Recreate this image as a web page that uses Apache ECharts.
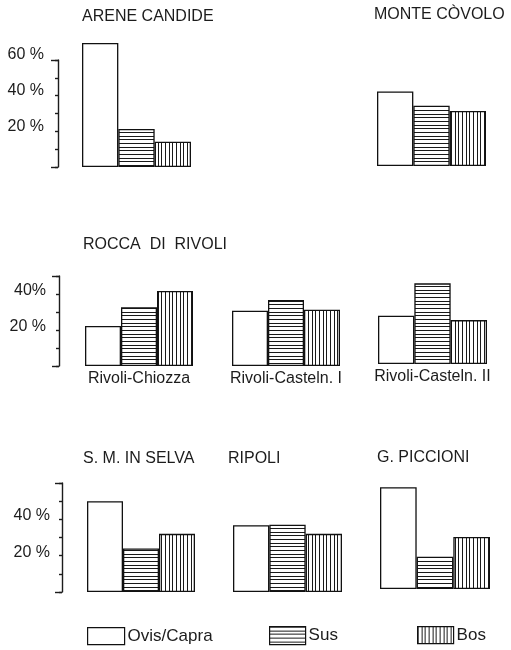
<!DOCTYPE html>
<html>
<head>
<meta charset="utf-8">
<script src="https://cdn.jsdelivr.net/npm/echarts@6/dist/echarts.min.js"></script>
<style>
html,body{margin:0;padding:0;background:#fff;}
#chart{width:511px;height:650px;}
</style>
</head>
<body>
<div id="chart"></div>
<script>
// ---- data ----
const species = ['Ovis/Capra', 'Sus', 'Bos'];
const sites = ['Arene Candide', 'Monte Còvolo', 'Rivoli-Chiozza', 'Rivoli-Casteln. I', 'Rivoli-Casteln. II', 'S. M. in Selva', 'Ripoli', 'G. Piccioni'];
const ovis = [69.6, 41.8, 22.2, 30.7, 26.8, 50.0, 36.8, 56.0];
const sus  = [21.3, 33.8, 32.6, 36.7, 44.8, 24.0, 37.0, 17.8];
const bos  = [14.2, 30.8, 41.7, 31.3, 24.4, 32.0, 32.0, 28.6];
const groupTitles = ['ARENE CANDIDE', 'MONTE CÒVOLO', 'ROCCA  DI  RIVOLI', 'S. M. IN SELVA', 'RIPOLI', 'G. PICCIONI'];
const subLabels = ['', '', 'Rivoli-Chiozza', 'Rivoli-Casteln. I', 'Rivoli-Casteln. II', '', '', ''];
const tickLabelsRow1 = {20: '20 %', 40: '40 %', 60: '60 %'};
const tickLabelsRow2 = {20: '20 %', 40: '40%'};
const tickLabelsRow3 = {20: '20 %', 40: '40 %'};

// ---- layout (pixels) ----
const grids = [
  {left: 82,  top: 60,  width: 109, height: 107, max: 60},
  {left: 377, top: 59,  width: 109, height: 107, max: 60},
  {left: 85,  top: 276, width: 108, height: 90,  max: 50},
  {left: 232, top: 276, width: 108, height: 90,  max: 50},
  {left: 378, top: 274, width: 109, height: 90,  max: 50},
  {left: 87,  top: 483, width: 108, height: 109, max: 60},
  {left: 233, top: 483, width: 109, height: 109, max: 60},
  {left: 380, top: 480, width: 110, height: 109, max: 60}
];
const axisSpec = {0: {offset: 24, margin: 14, lh: 10, labels: tickLabelsRow1},
                  2: {offset: 26, margin: 13, lh: 7, labels: tickLabelsRow2},
                  5: {offset: 25, margin: 12, lh: 7, labels: tickLabelsRow3}};
const titlePos = [[82, 9], [374, 7], [83, 237], [83, 451], [228, 451], [377, 450]];

const FONT = "'Liberation Sans', Arial, sans-serif";
const INK = '#1c1c1c';

function hatch(horizontal) {
  const c = document.createElement('canvas');
  const len = 11;
  c.width = horizontal ? 4 : len;
  c.height = horizontal ? len : 4;
  const g = c.getContext('2d');
  g.fillStyle = '#fff';
  g.fillRect(0, 0, c.width, c.height);
  g.fillStyle = '#1a1a1a';
  [0, 4, 7].forEach(p => {
    if (horizontal) g.fillRect(0, p, c.width, 1);
    else g.fillRect(p, 0, 1, c.height);
  });
  return {image: c, repeat: 'repeat'};
}
const fills = ['#ffffff', hatch(true), hatch(false)];
const values = [ovis, sus, bos];

const grid = [], xAxis = [], yAxis = [], series = [];
grids.forEach((g, i) => {
  grid.push({left: g.left, top: g.top, width: g.width, height: g.height, containLabel: false});
  xAxis.push({
    type: 'category', gridIndex: i, data: species, boundaryGap: true,
    axisLine: {show: false}, axisTick: {show: false}, axisLabel: {show: false},
    splitLine: {show: false},
    name: subLabels[i], nameLocation: 'middle', nameGap: 5,
    nameTextStyle: {fontFamily: FONT, fontSize: 16, color: INK, verticalAlign: 'top'}
  });
  const a = axisSpec[i];
  yAxis.push({
    type: 'value', gridIndex: i, min: 0, max: g.max, interval: 10,
    show: !!a, position: 'left', offset: a ? a.offset : 0,
    axisLine: {show: true, lineStyle: {color: INK, width: 1.4}},
    axisTick: {show: true, length: 3, inside: false, lineStyle: {color: INK, width: 1.4}},
    axisLabel: {
      show: !!a, margin: a ? a.margin : 8, fontFamily: FONT, fontSize: 16, color: INK,
      verticalAlign: 'bottom', lineHeight: a ? a.lh : 10,
      formatter: v => (a && a.labels[v]) || ''
    },
    splitLine: {show: false}
  });
  species.forEach((sp, k) => {
    const d = species.map((_, j) => j === k ? values[k][i] : '-');
    series.push({
      type: 'bar', name: sp, xAxisIndex: i, yAxisIndex: i, data: d,
      barWidth: '100%', barGap: '-100%', clip: false, silent: true,
      itemStyle: {color: fills[k], borderColor: '#111', borderWidth: 1.3},
      emphasis: {disabled: true}
    });
  });
});
// bracket end caps
Object.keys(axisSpec).forEach(key => {
  const i = +key, g = grids[i], a = axisSpec[i];
  yAxis.push({
    type: 'value', gridIndex: i, min: 0, max: g.max, interval: g.max,
    position: 'left', offset: a.offset,
    axisLine: {show: false},
    axisTick: {show: true, length: 7, inside: false, lineStyle: {color: INK, width: 1.4}},
    axisLabel: {show: false}, splitLine: {show: false}
  });
});

const title = groupTitles.map((t, i) => ({
  text: t, left: titlePos[i][0], top: titlePos[i][1], padding: 0,
  textStyle: {fontFamily: FONT, fontSize: 16, fontWeight: 'normal', color: INK}
}));

const legendPos = [[87, 627, 37, 17], [269, 626, 36, 18], [417, 626, 36, 17]];
const legend = species.map((sp, k) => ({
  data: [sp], left: legendPos[k][0], top: legendPos[k][1], padding: 0,
  itemWidth: legendPos[k][2], itemHeight: legendPos[k][3], icon: 'rect',
  selectedMode: false,
  itemStyle: {borderColor: '#111', borderWidth: 1.2},
  textStyle: {fontFamily: FONT, fontSize: 17, color: INK, padding: [0, 0, 0, -2]}
}));

const chart = echarts.init(document.getElementById('chart'), null, {renderer: 'canvas'});
chart.setOption({
  animation: false,
  backgroundColor: '#ffffff',
  title, legend, grid, xAxis, yAxis, series
});
</script>
</body>
</html>
